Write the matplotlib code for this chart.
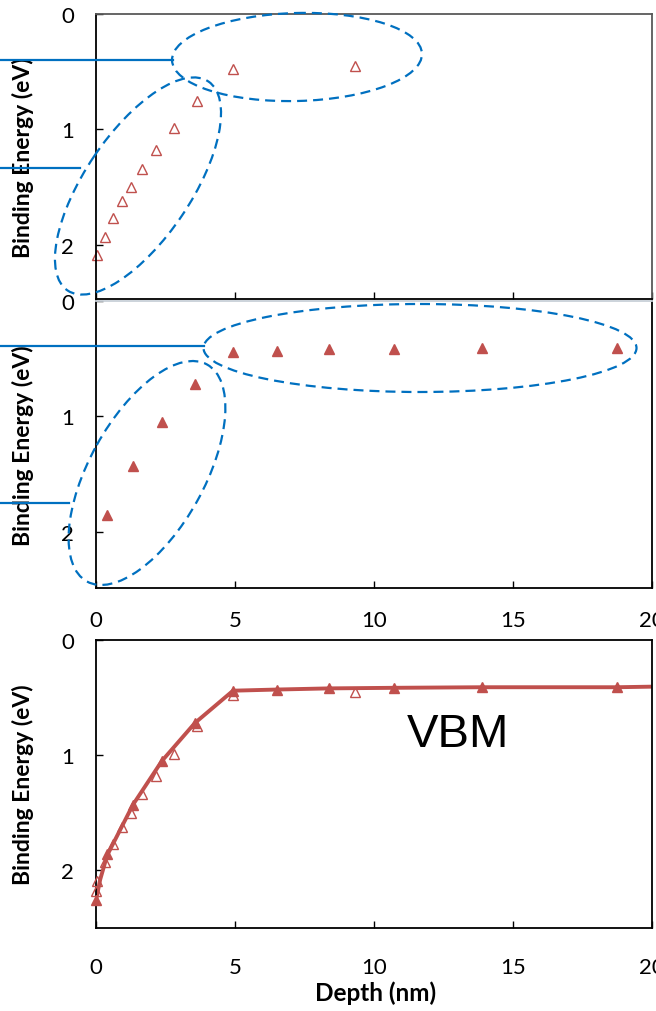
import matplotlib
matplotlib.use("Agg")
import matplotlib.pyplot as plt
from matplotlib.patches import Ellipse
from matplotlib.lines import Line2D
from matplotlib.transforms import Affine2D

plt.rcParams['font.family'] = ['Lato', 'DejaVu Sans']

# ===== Data (depth in nm, binding energy in eV) =====
open_depth = [0.04, 0.32, 0.61, 0.94, 1.26, 1.65, 2.16, 2.81, 3.63, 4.93, 9.32]
open_be = [2.09, 1.93, 1.77, 1.62, 1.50, 1.34, 1.18, 0.99, 0.75, 0.48, 0.45]

filled_depth = [0.40, 1.33, 2.37, 3.56, 4.93, 6.51, 8.38, 10.72, 13.88, 18.74]
filled_be = [1.86, 1.43, 1.05, 0.72, 0.44, 0.43, 0.42, 0.415, 0.41, 0.41]

# surface points shown only in the combined panel
surf_open_depth = [0.0]
surf_open_be = [2.18]
surf_filled_depth = [0.0]
surf_filled_be = [2.26]

# VBM profile line
vbm_depth = [0.0, 0.15, 0.40, 1.33, 2.37, 3.56, 4.93, 6.51, 8.38, 10.72, 13.88, 18.74, 20.0]
vbm_be = [2.26, 2.08, 1.87, 1.43, 1.05, 0.72, 0.44, 0.43, 0.42, 0.415, 0.41, 0.41, 0.405]

x_ticks = [0, 5, 10, 15, 20]
y_ticks = [0, 1, 2]

RED = '#C0504D'
BLUE = '#0070C0'
W, H = 656, 1012

fig = plt.figure(figsize=(W / 100, H / 100), dpi=100)


def box(top, bottom):
    # pixel rows -> figure fraction rect
    return [96 / W, 1 - bottom / H, 556 / W, (bottom - top) / H]


ax1 = fig.add_axes(box(15, 300))
ax2 = fig.add_axes(box(302, 589))
ax3 = fig.add_axes(box(641, 929))

for ax, ymax in ((ax1, 2.47), (ax2, 2.49), (ax3, 2.5)):
    ax.set_xlim(0, 20)
    ax.set_ylim(ymax, 0)
    ax.set_xticks(x_ticks)
    ax.set_yticks(y_ticks)
    ax.tick_params(direction='in', length=5, width=1, labelsize=16, pad=16)
    ax.set_ylabel('Binding Energy (eV)', fontsize=16.5, fontweight='bold')
    ax.yaxis.set_label_coords(-0.112, 0.5)
    for s in ax.spines.values():
        s.set_linewidth(1.3)

ax1.tick_params(axis='x', labelbottom=False)
ax1.spines['top'].set_color('#595959')
ax1.spines['right'].set_color('#595959')
ax2.spines['top'].set_color('#c8d0d8')
ax2.tick_params(axis='x', pad=16)
ax3.tick_params(axis='x', pad=21)

# panel 1: open triangles
ax1.plot(open_depth, open_be, linestyle='none', marker='^', ms=7.5,
         mfc='none', mec=RED, mew=1.0, clip_on=False)

# panel 2: filled triangles
ax2.plot(filled_depth, filled_be, linestyle='none', marker='^', ms=7.5,
         mfc=RED, mec=RED, clip_on=False)

# panel 3: both sets + profile
ax3.plot(vbm_depth, vbm_be, color=RED, lw=2.8, solid_capstyle='butt', zorder=2)
ax3.plot(open_depth + surf_open_depth, open_be + surf_open_be, linestyle='none',
         marker='^', ms=7.5, mfc='none', mec=RED, mew=1.0, clip_on=False, zorder=3)
ax3.plot(filled_depth + surf_filled_depth, filled_be + surf_filled_be, linestyle='none',
         marker='^', ms=7.5, mfc=RED, mec=RED, clip_on=False, zorder=3)
ax3.text(11.19, 0.92, 'VBM', fontsize=34, family='Liberation Sans',
         ha='left', va='baseline')

fig.text(376 / W, 1 - 993 / H, 'Depth (nm)', fontsize=17.5, fontweight='bold',
         ha='center', va='center')

# ===== annotation ellipses + leader lines (image pixel coords) =====
px = Affine2D().scale(1 / W, -1 / H).translate(0, 1) + fig.transFigure
dash = (0, (4.5, 2.7))
for (cx, cy, w, h, ang) in [(297, 58, 250, 88, -1.5),
                            (138, 187, 252, 106, -56),
                            (420, 349, 433, 88, 0),
                            (147, 474, 248, 115, -61)]:
    fig.add_artist(Ellipse((cx, cy), w, h, angle=ang, transform=px, fill=False,
                           ec=BLUE, lw=1.6, ls=dash))

for (x1, y) in [(173, 61), (80, 169), (204, 347), (69, 504)]:
    fig.add_artist(Line2D([0, x1], [y, y], transform=px, color=BLUE, lw=1.6))

fig.savefig('out.png', dpi=100)
